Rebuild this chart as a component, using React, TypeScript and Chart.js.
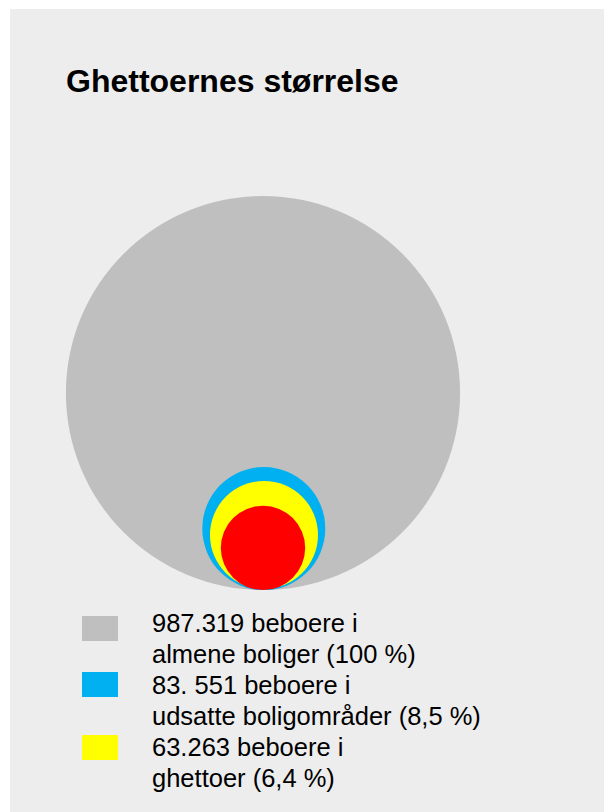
import React, { useEffect, useRef } from "react";
import { Chart, registerables } from "chart.js";

Chart.register(...registerables);

// ---- data ----
const categories = ["almene boliger", "udsatte boligområder", "ghettoer", "kerne"];
const residentLabels = ["987.319", "83. 551", "63.263"];
const shareLabels = ["100 %", "8,5 %", "6,4 %"];
const legendLines = [
  ["987.319 beboere i", "almene boliger (100 %)"],
  ["83. 551 beboere i", "udsatte boligområder (8,5 %)"],
  ["63.263 beboere i", "ghettoer (6,4 %)"],
];
// circle geometry (units: big circle radius = 100)
const centerX = [0, 0.4, 0.5, 0];
const centerY = [0, -68.8, -72.0, -78.6];
const radii = [100, 31.2, 27.4, 21.4];
const colors = ["#BFBFBF", "#00B0F0", "#FFFF00", "#FF0000"];

const TITLE = "Ghettoernes størrelse";

const FONT = '"Liberation Sans", Arial, sans-serif';

export default function App() {
  const canvasRef = useRef<HTMLCanvasElement | null>(null);

  useEffect(() => {
    if (!canvasRef.current) return;
    const points = categories.map((_, i) => ({ x: centerX[i], y: centerY[i] }));
    const radiusFn = (ctx: any) => {
      const s = ctx.chart.scales.x;
      const r = radii[ctx.dataIndex] ?? 0;
      return Math.abs(s.getPixelForValue(r) - s.getPixelForValue(0));
    };
    const chart = new Chart(canvasRef.current, {
      type: "scatter",
      data: {
        labels: categories,
        datasets: [
          {
            label: "Beboere",
            data: points,
            backgroundColor: colors,
            borderWidth: 0,
            pointBorderWidth: 0,
            pointRadius: radiusFn,
            pointHoverRadius: radiusFn,
          } as any,
        ],
      },
      options: {
        animation: false,
        responsive: false,
        maintainAspectRatio: false,
        layout: { padding: 0 },
        plugins: {
          legend: { display: false },
          tooltip: { enabled: false },
          title: { display: false },
        },
        scales: {
          x: { type: "linear", min: -103, max: 103, display: false },
          y: { type: "linear", min: -103, max: 103, display: false },
        },
      },
    });
    return () => chart.destroy();
  }, []);

  return (
    <div
      style={{
        position: "fixed",
        left: 10,
        top: 9,
        right: 0,
        bottom: 0,
        background: "#EDEDED",
        fontFamily: FONT,
        color: "#000",
        overflow: "hidden",
      }}
    >
      <div
        style={{
          position: "absolute",
          left: 56,
          top: 54,
          fontSize: 32,
          fontWeight: "bold",
          whiteSpace: "nowrap",
          lineHeight: "36px",
        }}
      >
        {TITLE}
      </div>
      <canvas
        ref={canvasRef}
        width={406}
        height={406}
        style={{ position: "absolute", left: 50, top: 181, width: 406, height: 406 }}
      />
      {legendLines.map((lines, i) => (
        <React.Fragment key={i}>
          <div
            style={{
              position: "absolute",
              left: 72,
              top: [607, 663, 726][i],
              width: 36,
              height: 25,
              background: colors[i],
            }}
            title={`${residentLabels[i]} (${shareLabels[i]})`}
          />
          <div
            style={{
              position: "absolute",
              left: 142,
              top: 599 + i * 62,
              fontSize: 25.5,
              lineHeight: "31px",
              whiteSpace: "nowrap",
            }}
          >
            {lines[0]}
            <br />
            {lines[1]}
          </div>
        </React.Fragment>
      ))}
    </div>
  );
}
